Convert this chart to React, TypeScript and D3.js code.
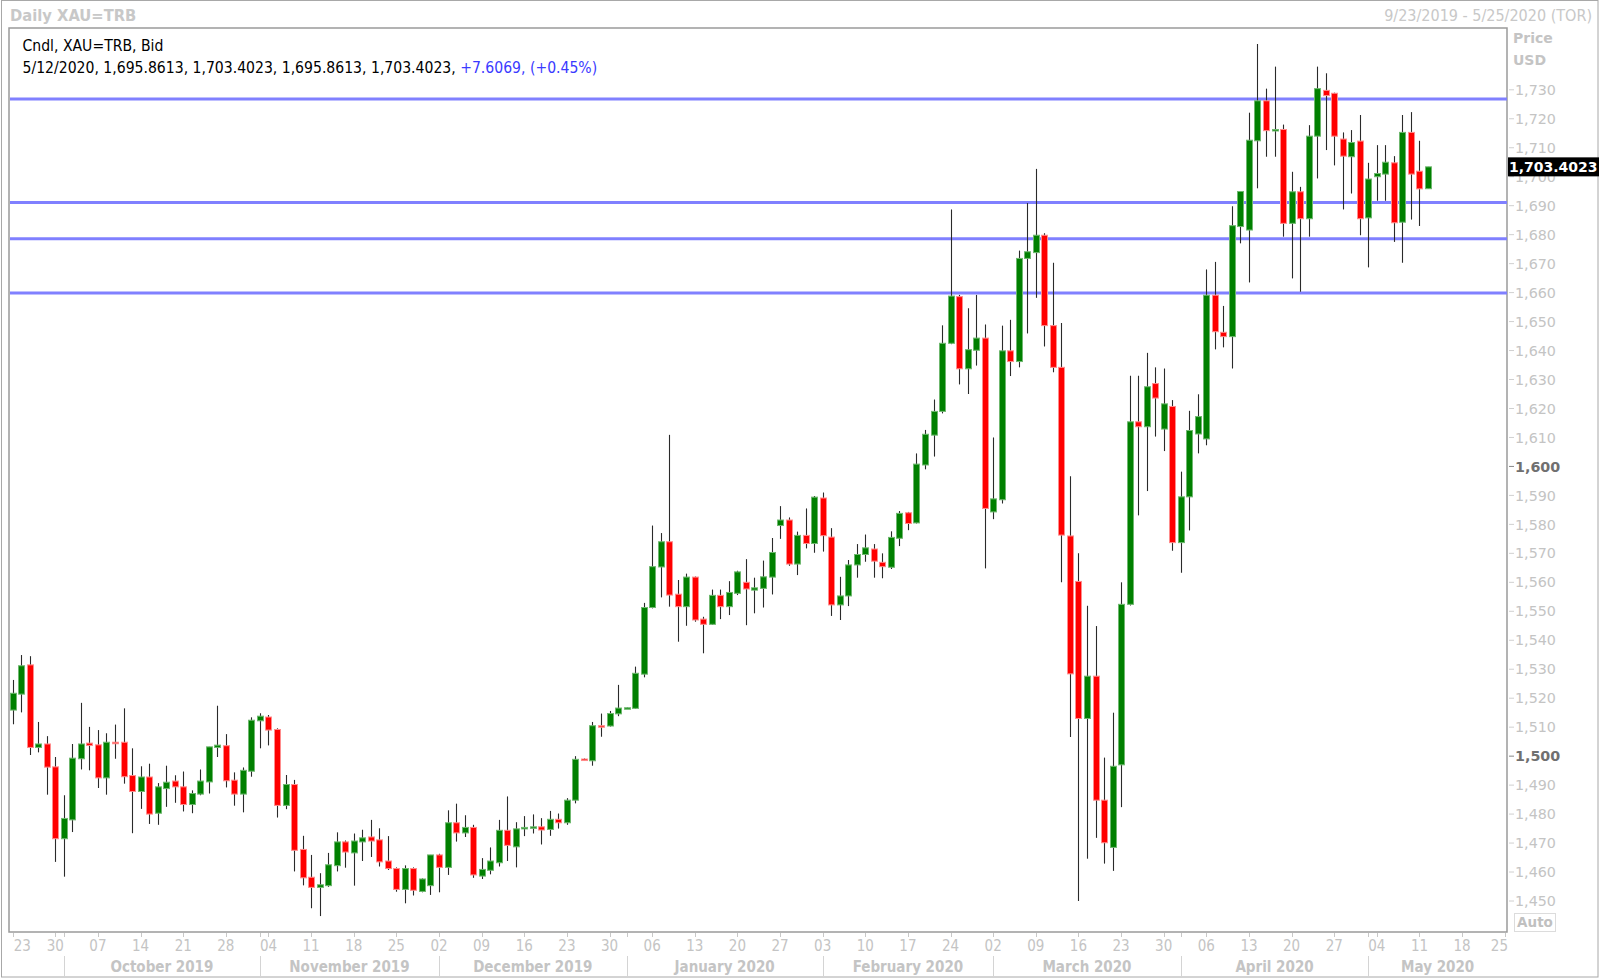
import React from "react";
import * as d3 from "d3";

// ---------- DATA (daily XAU=TRB, weekdays from 2019-09-23 to 2020-05-12) ----------
const startDate = "2019-09-23";
const endDate = "2020-05-12";
const axisEndDate = "2020-05-25";

const opens = [
  1515.9, 1521.4, 1531.5, 1503.0, 1504.2, 1496.3, 1471.5, 1478.0, 1499.1, 1504.5,
  1503.9, 1492.5, 1504.8, 1504.8, 1493.3, 1487.8, 1492.8, 1480.3, 1488.8, 1491.4,
  1489.4, 1483.3, 1486.9, 1491.1, 1503.0, 1503.6, 1491.7, 1486.9, 1494.8, 1512.2,
  1513.5, 1509.2, 1483.0, 1490.2, 1467.8, 1458.2, 1454.7, 1455.3, 1462.2, 1470.4,
  1466.6, 1470.4, 1472.1, 1471.1, 1463.8, 1461.2, 1454.0, 1461.2, 1453.3, 1455.3,
  1465.9, 1461.6, 1477.0, 1473.5, 1475.4, 1458.6, 1460.6, 1463.2, 1474.4, 1468.7,
  1474.9, 1475.2, 1475.6, 1474.7, 1478.2, 1477.0, 1484.8, 1499.0, 1498.4, 1510.5,
  1510.4, 1514.6, 1516.6, 1516.5, 1528.3, 1551.3, 1565.3, 1574.0, 1555.9, 1551.6,
  1561.8, 1547.3, 1545.5, 1555.5, 1551.6, 1556.2, 1560.0, 1557.3, 1557.9, 1561.8,
  1579.6, 1581.5, 1566.3, 1576.2, 1573.4, 1589.1, 1575.6, 1552.2, 1555.3, 1566.0,
  1569.6, 1571.5, 1566.9, 1565.2, 1575.2, 1584.0, 1580.5, 1600.5, 1610.8, 1619.0,
  1642.5, 1658.6, 1633.7, 1640.1, 1644.3, 1584.3, 1588.5, 1639.9, 1636.2, 1671.8,
  1673.8, 1679.8, 1648.6, 1634.2, 1576.0, 1560.3, 1513.0, 1527.6, 1484.8, 1468.5,
  1497.0, 1552.4, 1615.4, 1613.7, 1628.6, 1612.9, 1620.7, 1573.7, 1589.5, 1611.2,
  1609.5, 1659.1, 1646.3, 1644.8, 1682.8, 1681.6, 1712.4, 1726.2, 1715.9, 1716.3,
  1683.9, 1694.8, 1685.5, 1714.0, 1729.8, 1728.8, 1713.0, 1706.9, 1712.3, 1685.8,
  1700.0, 1700.9, 1704.8, 1684.3, 1715.3, 1701.9, 1695.8613,
];
const highs = [
  1526.3, 1534.9, 1534.5, 1511.8, 1506.9, 1499.7, 1486.5, 1504.2, 1518.4, 1510.1,
  1509.0, 1507.9, 1510.9, 1516.5, 1502.7, 1496.5, 1497.4, 1490.7, 1496.7, 1493.4,
  1494.7, 1488.2, 1495.4, 1503.2, 1517.4, 1507.6, 1494.4, 1496.1, 1513.4, 1514.8,
  1514.2, 1509.6, 1493.5, 1491.8, 1472.5, 1465.9, 1459.6, 1466.6, 1473.7, 1470.9,
  1473.3, 1474.6, 1478.0, 1475.1, 1472.4, 1461.6, 1462.3, 1461.6, 1457.8, 1465.9,
  1466.3, 1481.3, 1483.6, 1479.6, 1476.3, 1464.8, 1468.5, 1478.0, 1486.1, 1477.2,
  1479.3, 1479.9, 1478.6, 1481.1, 1480.2, 1485.5, 1500.0, 1499.2, 1511.8, 1514.7,
  1515.6, 1524.6, 1516.8, 1530.9, 1552.9, 1579.6, 1577.0, 1610.9, 1560.8, 1563.0,
  1562.0, 1548.1, 1557.5, 1557.5, 1560.4, 1564.0, 1568.0, 1561.6, 1567.5, 1575.3,
  1586.3, 1582.4, 1577.5, 1585.5, 1589.8, 1591.0, 1578.7, 1561.9, 1567.7, 1573.2,
  1576.5, 1573.2, 1570.0, 1577.6, 1584.6, 1584.3, 1604.5, 1612.6, 1623.1, 1648.7,
  1688.7, 1659.2, 1654.6, 1659.2, 1649.0, 1610.0, 1648.6, 1650.6, 1674.5, 1690.9,
  1702.7, 1680.5, 1670.3, 1649.5, 1596.6, 1570.0, 1551.9, 1544.9, 1499.5, 1515.0,
  1560.0, 1631.3, 1631.3, 1639.2, 1634.2, 1633.8, 1622.9, 1598.2, 1619.2, 1624.9,
  1668.0, 1670.6, 1655.4, 1689.8, 1695.0, 1722.1, 1745.8, 1730.4, 1738.0, 1718.0,
  1701.7, 1696.5, 1717.8, 1738.0, 1735.7, 1729.0, 1715.3, 1716.1, 1721.3, 1704.8,
  1710.9, 1710.9, 1707.1, 1721.3, 1722.3, 1712.4, 1703.4023,
];
const lows = [
  1511.0, 1515.1, 1500.4, 1501.3, 1486.7, 1463.5, 1458.4, 1473.8, 1495.4, 1495.1,
  1489.0, 1486.7, 1499.1, 1490.5, 1473.4, 1481.8, 1476.6, 1476.3, 1482.5, 1483.9,
  1480.9, 1480.3, 1486.5, 1487.1, 1499.7, 1489.2, 1482.9, 1480.6, 1492.9, 1502.7,
  1503.7, 1478.8, 1481.7, 1460.2, 1455.4, 1447.5, 1444.8, 1454.9, 1460.2, 1461.5,
  1455.3, 1463.8, 1465.2, 1461.9, 1460.7, 1453.2, 1449.2, 1451.9, 1453.0, 1452.1,
  1453.0, 1459.0, 1470.5, 1472.1, 1458.0, 1457.6, 1459.2, 1461.9, 1463.8, 1461.6,
  1472.4, 1473.3, 1469.5, 1472.5, 1475.0, 1476.3, 1483.7, 1498.5, 1496.7, 1506.7,
  1510.2, 1513.8, 1516.5, 1516.3, 1527.2, 1551.0, 1554.8, 1551.6, 1539.5, 1545.0,
  1546.4, 1535.5, 1545.3, 1547.3, 1548.7, 1555.6, 1545.2, 1549.3, 1551.3, 1555.8,
  1575.0, 1565.7, 1562.5, 1571.7, 1570.2, 1570.6, 1548.4, 1547.0, 1551.8, 1561.6,
  1567.1, 1561.6, 1561.4, 1564.6, 1572.5, 1578.0, 1580.3, 1599.0, 1603.4, 1618.3,
  1642.2, 1628.3, 1625.0, 1634.8, 1564.8, 1581.8, 1587.2, 1631.2, 1634.2, 1645.9,
  1658.2, 1641.4, 1632.5, 1560.0, 1506.6, 1450.0, 1464.6, 1471.8, 1462.9, 1460.4,
  1482.4, 1552.0, 1583.1, 1591.5, 1610.3, 1605.3, 1570.9, 1563.3, 1577.9, 1604.5,
  1607.3, 1640.4, 1641.1, 1633.8, 1677.0, 1663.5, 1696.0, 1706.9, 1706.9, 1679.3,
  1664.9, 1660.3, 1679.3, 1699.4, 1709.2, 1703.9, 1688.7, 1694.2, 1679.8, 1668.7,
  1691.7, 1691.7, 1677.5, 1670.3, 1685.2, 1683.0, 1695.8613,
];
const closes = [
  1521.7, 1531.2, 1503.0, 1504.2, 1496.2, 1471.5, 1478.5, 1499.3, 1504.2, 1503.7,
  1492.5, 1504.8, 1504.5, 1492.9, 1487.8, 1492.8, 1480.0, 1489.4, 1491.0, 1489.4,
  1483.3, 1487.1, 1491.4, 1503.2, 1503.8, 1491.5, 1486.9, 1495.1, 1512.4, 1513.8,
  1509.0, 1483.0, 1490.2, 1467.5, 1458.0, 1454.7, 1455.6, 1462.5, 1470.4, 1466.9,
  1470.7, 1471.8, 1470.7, 1463.5, 1461.2, 1454.0, 1461.2, 1453.7, 1457.6, 1465.9,
  1461.6, 1477.0, 1473.5, 1475.4, 1459.0, 1460.9, 1463.8, 1474.4, 1469.2, 1474.9,
  1475.4, 1475.6, 1474.5, 1478.2, 1477.0, 1484.8, 1498.9, 1498.7, 1510.5, 1510.2,
  1514.7, 1516.6, 1516.7, 1528.6, 1551.3, 1565.4, 1574.0, 1555.6, 1551.6, 1561.8,
  1547.0, 1545.5, 1555.5, 1551.6, 1556.5, 1563.6, 1557.7, 1558.1, 1561.9, 1570.3,
  1581.5, 1566.3, 1576.2, 1573.4, 1589.4, 1576.1, 1552.2, 1555.3, 1566.0, 1569.6,
  1571.9, 1567.3, 1565.4, 1575.5, 1583.8, 1580.3, 1600.8, 1611.1, 1619.0, 1642.5,
  1658.8, 1633.7, 1640.3, 1644.3, 1585.5, 1588.8, 1639.9, 1636.2, 1671.8, 1674.1,
  1679.8, 1648.6, 1634.2, 1576.3, 1528.4, 1513.0, 1527.6, 1484.8, 1470.1, 1496.5,
  1552.4, 1615.4, 1613.7, 1627.5, 1623.6, 1621.6, 1573.7, 1589.5, 1612.4, 1617.2,
  1659.1, 1646.5, 1644.8, 1683.1, 1694.9, 1712.6, 1726.2, 1715.9, 1716.3, 1683.9,
  1694.8, 1685.5, 1714.0, 1730.4, 1728.0, 1714.0, 1707.1, 1711.8, 1685.5, 1699.2,
  1701.1, 1705.0, 1684.1, 1715.3, 1700.9, 1695.8, 1703.4023,
];

const horizontalLevels = [1726.8, 1691.1, 1678.6, 1659.9];
const priceTicks = d3.range(1450, 1731, 10);
const boldPriceTicks = [1500, 1600];
const lastPrice = 1703.4023;

const titleLeft = "Daily XAU=TRB";
const titleRight = "9/23/2019 - 5/25/2020 (TOR)";
const legendLine1 = "Cndl, XAU=TRB, Bid";
const legendLine2 = "5/12/2020, 1,695.8613, 1,703.4023, 1,695.8613, 1,703.4023, ";
const legendChange = "+7.6069, (+0.45%)";

// ---------- helpers ----------
function weekdays(from: string, to: string): Date[] {
  const out: Date[] = [];
  const d = new Date(from + "T00:00:00");
  const e = new Date(to + "T00:00:00");
  while (d <= e) {
    const w = d.getDay();
    if (w !== 0 && w !== 6) out.push(new Date(d));
    d.setDate(d.getDate() + 1);
  }
  return out;
}

const W = 1600;
const H = 980;
const plot = { left: 9, right: 1507, top: 28, bottom: 932 };

const FONT_T = "'DejaVu Sans Condensed', 'DejaVu Sans', sans-serif";
const FONT_V = "'DejaVu Sans', sans-serif";
const GREY = "#c4c4c4";

export default function App() {
  const axisDays = weekdays(startDate, axisEndDate);
  const tradeDays = axisDays.filter((d) => d <= new Date(endDate + "T00:00:00"));

  const x = d3
    .scaleLinear()
    .domain([0, 1])
    .range([12.7, 12.7 + 8.526]);
  const y = d3.scaleLinear().domain([1450, 1730]).range([901.0, 89.8]);

  const candles = tradeDays.map((d, i) => ({
    date: d,
    o: opens[i],
    h: highs[i],
    l: lows[i],
    c: closes[i],
    i,
  }));

  // week ticks (Mondays)
  const weekTicks = axisDays
    .map((d, i) => ({ d, i }))
    .filter((t) => t.d.getDay() === 1);

  // month boundaries (first weekday of each month)
  const monthStarts = axisDays
    .map((d, i) => ({ d, i }))
    .filter((t, k, arr) => k > 0 && t.d.getMonth() !== arr[k - 1].d.getMonth());
  const monthFmt = d3.timeFormat("%B %Y");
  const dayFmt = d3.timeFormat("%d");

  const bodyW = 6;

  return (
    <div style={{ position: "absolute", left: 0, top: 0 }}>
      <svg width={W} height={H} style={{ display: "block", background: "#fff" }}>
        {/* outer frame */}
        <rect x={1.5} y={0.5} width={1596.5} height={976.5} fill="none" stroke="#a8a8a8" strokeWidth={1} />

        {/* titles */}
        <text x={10} y={21} fontFamily={FONT_T} fontWeight="bold" fontSize={16.4} fill="#c8c8c8">
          {titleLeft}
        </text>
        <text x={1592} y={21} textAnchor="end" fontFamily={FONT_T} fontSize={16} fill="#c8c8c8">
          {titleRight}
        </text>

        {/* plot frame */}
        <rect
          x={plot.left}
          y={plot.top}
          width={plot.right - plot.left}
          height={plot.bottom - plot.top}
          fill="#fff"
          stroke="#9a9a9a"
          strokeWidth={1.5}
        />

        {/* horizontal levels */}
        {horizontalLevels.map((p, k) => (
          <line
            key={"lv" + k}
            x1={plot.left + 1}
            x2={plot.right}
            y1={y(p)}
            y2={y(p)}
            stroke="#8080ff"
            strokeWidth={3}
          />
        ))}

        {/* candles */}
        {candles.map((c) => {
          const cx = Math.round(x(c.i)) + 0.5;
          const up = c.c >= c.o;
          const top = y(Math.max(c.o, c.c));
          const bot = y(Math.min(c.o, c.c));
          const h = Math.max(bot - top, 1.5);
          return (
            <g key={"c" + c.i}>
              <line x1={cx} x2={cx} y1={y(c.h)} y2={y(c.l)} stroke="#2a2a2a" strokeWidth={1.1} />
              <rect
                x={cx - bodyW / 2}
                y={top}
                width={bodyW}
                height={h}
                fill={up ? "#008000" : "#ff0000"}
                stroke={up ? "#6fb86f" : "#ff8c8c"}
                strokeWidth={1}
              />
            </g>
          );
        })}

        {/* legend text */}
        <text x={22.5} y={51} fontFamily={FONT_T} fontSize={15.6} fill="#000">
          {legendLine1}
        </text>
        <text x={22.5} y={72.5} fontFamily={FONT_T} fontSize={15.6} fill="#000">
          {legendLine2}
          <tspan fill="#3a3aff">{legendChange}</tspan>
        </text>

        {/* price axis */}
        <text x={1513} y={43} fontFamily={FONT_V} fontWeight="bold" fontSize={14} fill={GREY}>
          Price
        </text>
        <text x={1513} y={64.5} fontFamily={FONT_V} fontWeight="bold" fontSize={14} fill={GREY}>
          USD
        </text>
        {priceTicks.map((p) => {
          const bold = boldPriceTicks.includes(p);
          return (
            <g key={"pt" + p}>
              <line x1={plot.right + 2} x2={plot.right + 7} y1={y(p)} y2={y(p)} stroke={bold ? "#888" : "#d0d0d0"} strokeWidth={1} />
              <text
                x={1515}
                y={y(p)}
                dy="0.36em"
                fontFamily={FONT_V}
                fontSize={14.3}
                fontWeight={bold ? "bold" : "normal"}
                fill={bold ? "#707070" : GREY}
              >
                {d3.format(",")(p)}
              </text>
            </g>
          );
        })}
        {/* last price box */}
        <rect x={1508} y={y(lastPrice) - 9.5} width={91} height={19} fill="#000" />
        <text x={1509} y={y(lastPrice)} dy="0.36em" fontFamily={FONT_V} fontWeight="bold" fontSize={14} fill="#fff">
          {d3.format(",.4f")(lastPrice)}
        </text>
        {/* Auto box */}
        <rect x={1514.5} y={913.5} width={41} height={18} fill="#fff" stroke="#dcdcdc" strokeWidth={1} />
        <text x={1535} y={922.5} dy="0.36em" textAnchor="middle" fontFamily={FONT_V} fontWeight="bold" fontSize={13.5} fill="#c0c0c0">
          Auto
        </text>

        {/* time axis */}
        {weekTicks.map((t) => {
          const tx = x(t.i);
          let anchor = "middle";
          let lx = tx;
          if (tx - 9 < plot.left) {
            anchor = "start";
            lx = tx + 1;
          } else if (tx + 9 > plot.right) {
            anchor = "end";
            lx = plot.right + 1;
          }
          return (
            <g key={"wt" + t.i}>
              <line x1={Math.round(tx) + 0.5} x2={Math.round(tx) + 0.5} y1={plot.bottom + 1} y2={plot.bottom + 5} stroke="#c8c8c8" />
              <text x={lx} y={946} dy="0.36em" textAnchor={anchor} fontFamily={FONT_T} fontSize={15} fill={GREY}>
                {dayFmt(t.d)}
              </text>
            </g>
          );
        })}
        {monthStarts.map((m, k) => {
          const mx = Math.round(x(m.i)) + 0.5;
          const next = monthStarts[k + 1];
          const endX = next ? x(next.i) : plot.right;
          return (
            <g key={"ms" + m.i}>
              <line x1={mx} x2={mx} y1={plot.bottom + 1} y2={plot.bottom + 5} stroke="#c8c8c8" />
              <line x1={mx} x2={mx} y1={956} y2={976} stroke="#d4d4d4" />
              <text
                x={(x(m.i) + endX) / 2}
                y={966.5}
                dy="0.36em"
                textAnchor="middle"
                fontFamily={FONT_T}
                fontWeight="bold"
                fontSize={15}
                fill={GREY}
              >
                {monthFmt(m.d)}
              </text>
            </g>
          );
        })}
      </svg>
    </div>
  );
}
